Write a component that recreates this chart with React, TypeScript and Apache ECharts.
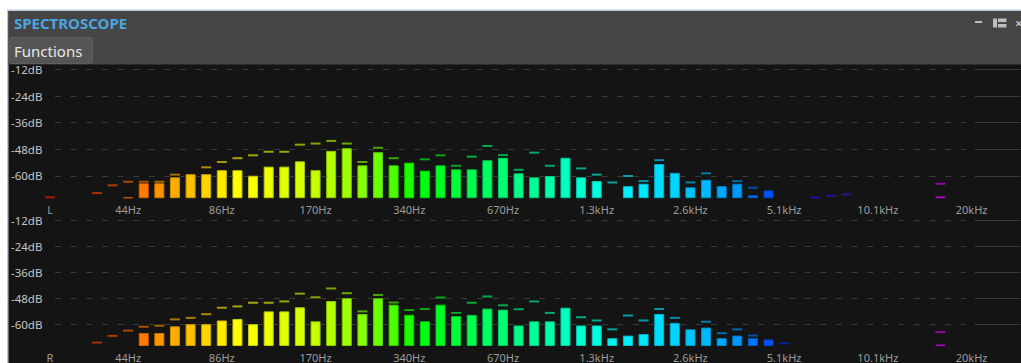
import React, { useEffect, useRef } from "react";
import * as echarts from "echarts";

// ---------- data ----------
const FLOOR_DB = -70;
const SLOT_MAX = 62.1;
const X_TICK_SLOTS = [0, 5, 11, 17, 23, 29, 35, 41, 47, 53, 59];
const X_TICK_LABELS_L = ["L", "44Hz", "86Hz", "170Hz", "340Hz", "670Hz", "1.3kHz", "2.6kHz", "5.1kHz", "10.1kHz", "20kHz"];
const X_TICK_LABELS_R = ["R", "44Hz", "86Hz", "170Hz", "340Hz", "670Hz", "1.3kHz", "2.6kHz", "5.1kHz", "10.1kHz", "20kHz"];
const DB_TICKS = [-12, -24, -36, -48, -60];

const N = null;
// left channel: current level per 1/6-octave band (dB), null = below floor
const LEFT_LEVEL: (number | null)[] = [
  N, N, N, N, N, -69.6, -63.3, -63.3, -60.6, -59.2,
  -59.2, -57.4, -57.4, -59.9, -55.8, -55.8, -53.4, -57.4, -48.7, -47.5,
  -55.2, -49.3, -55.2, -54.0, -57.6, -55.2, -57.0, -57.0, -52.9, -51.8,
  -58.8, -60.6, -60.0, -51.8, -60.6, -62.3, N, -64.6, -63.5, -54.6,
  -58.6, -65.1, -61.7, -64.6, -63.5, -68.7, -66.5, N, N, N,
  N, N, N, N, N, N, N, -69.2, N, N,
  N, N, N,
];
// left channel: peak hold (dB)
const LEFT_PEAK: (number | null)[] = [
  -69.6, N, N, -67.7, -64.2, -62.6, -62.6, -62.6, -59.4, N,
  -56.1, -53.7, -52.0, -50.7, -49.1, -49.1, -45.9, -45.4, -44.2, -45.4,
  -53.7, -47.3, -52.0, N, -52.5, -50.7, -55.4, -51.3, -46.5, -50.6,
  -57.2, -49.5, -55.4, N, -56.6, -59.4, -62.9, -60.0, -62.3, -52.9,
  N, -62.9, -58.8, N, -62.3, -65.3, N, N, N, -69.7,
  -68.9, -68.3, N, N, N, N, N, -63.5, N, N,
  N, N, N,
];
// right channel
const RIGHT_LEVEL: (number | null)[] = [
  N, N, N, N, N, N, -64.0, -64.0, -60.9, -59.9,
  -59.9, -58.2, -57.5, -59.9, -54.0, -54.0, -52.1, -58.6, -49.2, -47.9,
  -55.2, -47.9, -50.9, -55.6, -58.6, -50.9, -56.2, -55.6, -52.7, -53.2,
  -60.5, -58.6, -58.6, -52.3, -60.5, -60.5, -66.4, -65.2, -64.5, -55.2,
  -59.3, -62.3, -61.5, -66.4, -65.2, -66.4, -67.0, N, N, N,
  N, N, N, N, N, N, N, -69.3, N, N,
  N, N, N,
];
const RIGHT_PEAK: (number | null)[] = [
  N, N, N, -68.4, -65.3, -62.9, -61.1, -60.6, -57.7, -57.0,
  -55.3, -52.3, -51.7, -50.0, -50.0, -49.4, -45.8, -47.5, -43.4, -45.6,
  -54.0, -46.4, -49.9, -53.4, -52.9, -47.6, -54.7, -50.0, -47.1, -51.2,
  -53.0, -49.4, -54.7, N, -56.7, -58.2, -62.3, -55.9, -58.2, -52.9,
  -57.0, N, -58.8, -64.1, -62.3, -65.2, N, -68.8, N, N,
  N, N, N, N, N, N, N, -63.6, N, N,
  N, N, N,
];

// ---------- style ----------
const COLOR_KEYS: [number, string][] = [
  [0, "#ff1a00"], [3, "#ff4a00"], [5, "#ff6a00"], [6, "#ff7b00"], [8, "#ffae00"],
  [10, "#ffd400"], [12, "#ffff00"], [14, "#eeff00"], [16, "#d6ff00"], [18, "#b2ff00"],
  [20, "#88ff00"], [22, "#4cff00"], [23, "#1aff00"], [24, "#00ff10"], [27, "#00ff50"],
  [30, "#00ff88"], [33, "#00ffc0"], [35, "#00ffe0"], [37, "#00f0ff"], [40, "#00d4ff"],
  [42, "#00b8ff"], [44, "#0098ff"], [46, "#0052ff"], [47, "#0034f0"], [49, "#2a14e0"],
  [51, "#4a10e0"], [57, "#e400ff"], [62, "#ff00e0"],
];
const hexToRgb = (h: string) => [1, 3, 5].map((i) => parseInt(h.slice(i, i + 2), 16));
const rgb = (c: number[], k = 1) => `rgb(${c.map((v) => Math.round(v * k)).join(",")})`;
function slotRgb(i: number): number[] {
  for (let k = 0; k < COLOR_KEYS.length - 1; k++) {
    const [a, ca] = COLOR_KEYS[k];
    const [b, cb] = COLOR_KEYS[k + 1];
    if (i >= a && i <= b) {
      const t = (i - a) / (b - a);
      const A = hexToRgb(ca), B = hexToRgb(cb);
      return A.map((v, j) => v + (B[j] - v) * t);
    }
  }
  return hexToRgb(COLOR_KEYS[COLOR_KEYS.length - 1][1]);
}

const SLOT_PX = 15.62;
const GRID_LEFT = 50;
const GRID_H = 133.3;
const GRID_TOPS = [64.9, 216.2];
const FONT = "'Noto Sans', 'DejaVu Sans', sans-serif";

function channelSeries(gi: number, level: (number | null)[], peak: (number | null)[]) {
  const gridMarks: any[] = [];
  DB_TICKS.forEach((d) => {
    const y = d - FLOOR_DB;
    gridMarks.push([
      { coord: [0.32, y], lineStyle: { type: [6, 9.62], color: "#3b3b3b", width: 1 } },
      { coord: [58.64, y] },
    ]);
    gridMarks.push([
      { coord: [59.2, y], lineStyle: { type: "solid", color: "#3a3a3a", width: 1 } },
      { coord: [SLOT_MAX, y] },
    ]);
  });
  const bars: any[] = [];
  level.forEach((v, i) => {
    if (v == null) return;
    const c = slotRgb(i);
    bars.push({ value: [i, v - FLOOR_DB], itemStyle: { color: rgb(c), borderColor: rgb(c, 0.8) } });
  });
  const peaks: any[] = [];
  peak.forEach((v, i) => {
    if (v == null) return;
    const c = slotRgb(i);
    peaks.push({ value: [i, v - FLOOR_DB], itemStyle: { color: rgb(c, 0.8) } });
  });
  return [
    {
      type: "line", xAxisIndex: gi, yAxisIndex: gi, data: [], z: 1, silent: true,
      markLine: { silent: true, symbol: ["none", "none"], label: { show: false }, data: gridMarks },
    },
    {
      type: "bar", xAxisIndex: gi, yAxisIndex: gi, data: bars, barWidth: 10, clip: false, z: 2,
      itemStyle: { borderWidth: 1 }, silent: true,
    },
    {
      type: "scatter", xAxisIndex: gi, yAxisIndex: gi, data: peaks, symbol: "rect",
      symbolSize: [10, 2], clip: false, z: 3, silent: true,
    },
  ];
}

function buildOption(): any {
  const grids = GRID_TOPS.map((top) => ({ left: GRID_LEFT, top, height: GRID_H, width: SLOT_MAX * SLOT_PX }));
  const labelSets = [X_TICK_LABELS_L, X_TICK_LABELS_R];
  const xAxis = GRID_TOPS.map((_, gi) => ({
    type: "value", gridIndex: gi, min: 0, max: SLOT_MAX,
    axisLine: { show: false }, axisTick: { show: false }, splitLine: { show: false },
    axisLabel: {
      customValues: X_TICK_SLOTS, color: "#9c9c9c", fontSize: 11, fontFamily: FONT, margin: 6,
      formatter: (v: number) => {
        const k = X_TICK_SLOTS.indexOf(Math.round(v));
        return k >= 0 ? labelSets[gi][k] : "";
      },
    },
  }));
  const yAxis = GRID_TOPS.map((_, gi) => ({
    type: "value", gridIndex: gi, min: 0, max: 60,
    axisLine: { show: false }, axisTick: { show: false }, splitLine: { show: false },
    axisLabel: {
      customValues: DB_TICKS.map((d) => d - FLOOR_DB), color: "#c4c4c4", fontSize: 11.5,
      fontFamily: FONT, align: "left", margin: 39,
      formatter: (v: number) => `${Math.round(v + FLOOR_DB)}dB`,
    },
  }));
  const iconColor = "#bdbdbd";
  const graphic = [
    { type: "rect", shape: { x: 0, y: 0, width: 1021, height: 10 }, style: { fill: "#ffffff" }, silent: true },
    { type: "rect", shape: { x: 0, y: 0, width: 7, height: 363 }, style: { fill: "#ffffff" }, silent: true },
    { type: "rect", shape: { x: 7, y: 9.5, width: 1014, height: 1.5 }, style: { fill: "#b8c8e6" }, silent: true },
    { type: "rect", shape: { x: 7, y: 9.5, width: 1.5, height: 354 }, style: { fill: "#b8c8e6" }, silent: true },
    { type: "rect", shape: { x: 8.5, y: 11, width: 1013, height: 53.5 }, style: { fill: "#454545" }, silent: true },
    {
      type: "text", x: 14, y: 23, silent: true,
      style: { text: "SPECTROSCOPE", fill: "#4aa6e0", font: `bold 15px ${FONT}`, verticalAlign: "middle" },
    },
    {
      type: "rect", shape: { x: 9.5, y: 37.5, width: 83, height: 26, r: 2 }, silent: true,
      style: { fill: "#555555", stroke: "#5e5e5e", lineWidth: 1 },
    },
    {
      type: "text", x: 14, y: 51, silent: true,
      style: { text: "Functions", fill: "#e8e8e8", font: `15px ${FONT}`, verticalAlign: "middle" },
    },
    { type: "rect", shape: { x: 975, y: 21, width: 7, height: 2 }, style: { fill: iconColor }, silent: true },
    { type: "rect", shape: { x: 993, y: 18.5, width: 4, height: 9 }, style: { fill: iconColor }, silent: true },
    { type: "rect", shape: { x: 998, y: 18.5, width: 8.5, height: 3.5 }, style: { fill: iconColor }, silent: true },
    { type: "rect", shape: { x: 998, y: 24, width: 8.5, height: 3.5 }, style: { fill: iconColor }, silent: true },
    {
      type: "text", x: 1015, y: 23, silent: true,
      style: { text: "×", fill: iconColor, font: `bold 13px ${FONT}`, verticalAlign: "middle" },
    },
  ];
  return {
    animation: false,
    backgroundColor: "#141414",
    textStyle: { fontFamily: FONT },
    grid: grids,
    xAxis,
    yAxis,
    graphic,
    series: [
      ...channelSeries(0, LEFT_LEVEL, LEFT_PEAK),
      ...channelSeries(1, RIGHT_LEVEL, RIGHT_PEAK),
    ],
  };
}

export default function App() {
  const ref = useRef<HTMLDivElement>(null);
  useEffect(() => {
    if (!ref.current) return;
    const chart = echarts.init(ref.current, undefined, { renderer: "svg" });
    chart.setOption(buildOption());
    return () => chart.dispose();
  }, []);
  return (
    <div
      ref={ref}
      style={{ position: "absolute", left: 0, top: 0, width: 1021, height: 363, overflow: "hidden" }}
    />
  );
}
